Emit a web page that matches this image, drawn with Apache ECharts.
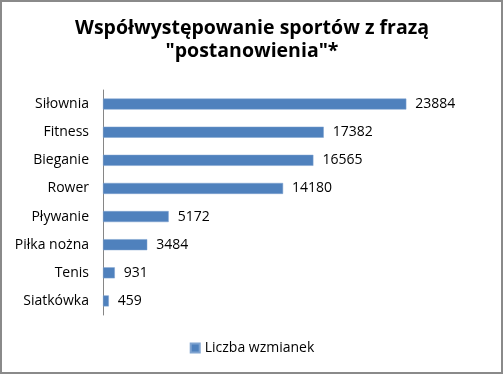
<!DOCTYPE html>
<html>
<head>
<meta charset="utf-8">
<script src="https://cdn.jsdelivr.net/npm/echarts@6/dist/echarts.min.js"></script>
<style>
html,body{margin:0;padding:0;background:#fff;}
#main{width:504px;height:376px;}
</style>
</head>
<body>
<div id="main"></div>
<script>
const categories = ['Siłownia','Fitness','Bieganie','Rower','Pływanie','Piłka nożna','Tenis','Siatkówka'];
const values = [23884, 17382, 16565, 14180, 5172, 3484, 931, 459];
const seriesName = 'Liczba wzmianek';
const titleText = 'Współwystępowanie sportów z frazą\n"postanowienia"*';

const chart = echarts.init(document.getElementById('main'));
chart.setOption({
  animation: false,
  backgroundColor: '#fff',
  title: {
    text: titleText,
    left: 'center',
    top: 12,
    textStyle: {fontFamily: 'Open Sans', fontWeight: 'bold', fontSize: 19.5, lineHeight: 23, color: '#000'}
  },
  legend: {
    bottom: 16,
    left: 'center',
    itemWidth: 9,
    itemHeight: 9,
    itemGap: 4,
    icon: 'rect',
    textStyle: {fontFamily: 'Open Sans', fontSize: 14, color: '#000'},
    data: [seriesName]
  },
  grid: {left: 103, right: 20, top: 90, bottom: 61, containLabel: false},
  xAxis: {
    type: 'value', min: 0, max: 30000,
    show: false
  },
  yAxis: {
    type: 'category',
    data: categories,
    inverse: true,
    axisLine: {lineStyle: {color: '#868686'}},
    axisTick: {length: 5, lineStyle: {color: '#868686'}},
    axisLabel: {fontFamily: 'Open Sans', fontSize: 14, color: '#000', margin: 14}
  },
  series: [{
    name: seriesName,
    type: 'bar',
    data: values,
    barWidth: 11,
    itemStyle: {color: '#4F81BD', borderColor: '#7FA3D0', borderWidth: 0.5},
    label: {show: true, position: 'right', distance: 9, fontFamily: 'Open Sans', fontSize: 14, color: '#000'}
  }],
  graphic: [{
    type: 'rect',
    shape: {x: 1, y: 1, width: 501, height: 372},
    style: {fill: 'none', stroke: '#8a8a8a', lineWidth: 2},
    silent: true
  }]
});
</script>
</body>
</html>
